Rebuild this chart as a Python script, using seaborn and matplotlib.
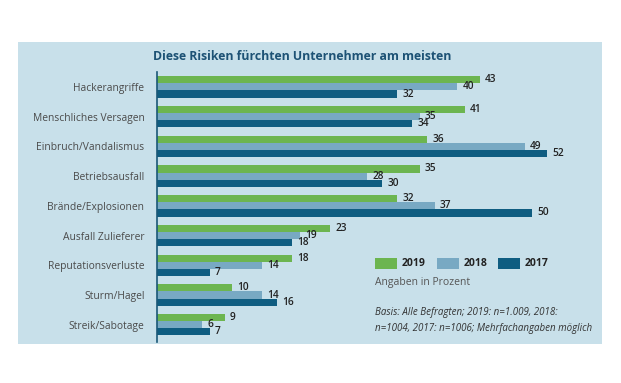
import pandas as pd
import matplotlib.pyplot as plt
import seaborn as sns
from matplotlib.patches import Rectangle

# === Daten ===
risiken = ['Hackerangriffe', 'Menschliches Versagen', 'Einbruch/Vandalismus',
           'Betriebsausfall', 'Brände/Explosionen', 'Ausfall Zulieferer',
           'Reputationsverluste', 'Sturm/Hagel', 'Streik/Sabotage']
jahre = ['2019', '2018', '2017']
werte_2019 = [43, 41, 36, 35, 32, 23, 18, 10, 9]
werte_2018 = [40, 35, 49, 28, 37, 19, 14, 14, 6]
werte_2017 = [32, 34, 52, 30, 50, 18, 7, 16, 7]

farben = ['#6cb550', '#78a9c3', '#0f5d81']
hintergrund = '#c8e0ea'

df = pd.DataFrame({
    'risiko': risiken * 3,
    'jahr': [j for j in jahre for _ in risiken],
    'wert': werte_2019 + werte_2018 + werte_2017,
})

sns.set_style('white')
plt.rcParams['font.family'] = ['Open Sans', 'DejaVu Sans']

fig = plt.figure(figsize=(6.21, 3.83), dpi=100)
W, H = 621, 383

# Hintergrund-Panel (hinter den Achsen)
fig.patches.append(Rectangle((18 / W, 1 - 344 / H), (602 - 18) / W, (344 - 42) / H,
                             transform=fig.transFigure, facecolor=hintergrund,
                             edgecolor='none', zorder=-1))

ax = fig.add_axes([157 / W, 1 - 342 / H, (602 - 157) / W, (342 - 72) / H])
ax.set_facecolor('none')

sns.barplot(data=df, y='risiko', x='wert', hue='jahr', hue_order=jahre,
            palette=farben, orient='h', width=0.72, saturation=1,
            linewidth=0, legend=False, ax=ax)

ax.set_xlim(0, 445 / 7.5)
ax.set_ylim(8.58, -0.5)
ax.set_xlabel('')
ax.set_ylabel('')
ax.set_xticks([])
for s in ['top', 'right', 'bottom']:
    ax.spines[s].set_visible(False)
ax.spines['left'].set_color('#1b5877')
ax.spines['left'].set_linewidth(1.2)
ax.tick_params(axis='y', length=0, pad=9, labelsize=7.4, labelcolor='#4a4a4a')

# Wertebeschriftungen
for cont in ax.containers:
    ax.bar_label(cont, padding=4, fontsize=7.3, color='#222222',
                 fontweight='semibold')

# Titel
fig.text(302 / W, 1 - 57 / H, 'Diese Risiken fürchten Unternehmer am meisten',
         ha='center', va='center', fontsize=8.8, fontweight='bold',
         color='#1d5275')

# Legende
leg_x = [375, 437, 498]
for x0, jahr, farbe in zip(leg_x, jahre, farben):
    fig.patches.append(Rectangle((x0 / W, 1 - 269 / H), 22 / W, 11 / H,
                                 transform=fig.transFigure, facecolor=farbe,
                                 edgecolor='none'))
    fig.text((x0 + 27) / W, 1 - 264 / H, jahr, ha='left', va='center',
             fontsize=7.5, fontweight='bold', color='#222222')

fig.text(375 / W, 1 - 283 / H, 'Angaben in Prozent', ha='left', va='center',
         fontsize=7.5, color='#555555')
fig.text(375 / W, 1 - 313 / H, 'Basis: Alle Befragten; 2019: n=1.009, 2018:',
         ha='left', va='center', fontsize=7, style='italic', color='#333333')
fig.text(375 / W, 1 - 329 / H, 'n=1004, 2017: n=1006; Mehrfachangaben möglich',
         ha='left', va='center', fontsize=7, style='italic', color='#333333')

plt.savefig('out.png', dpi=100, facecolor='white')
